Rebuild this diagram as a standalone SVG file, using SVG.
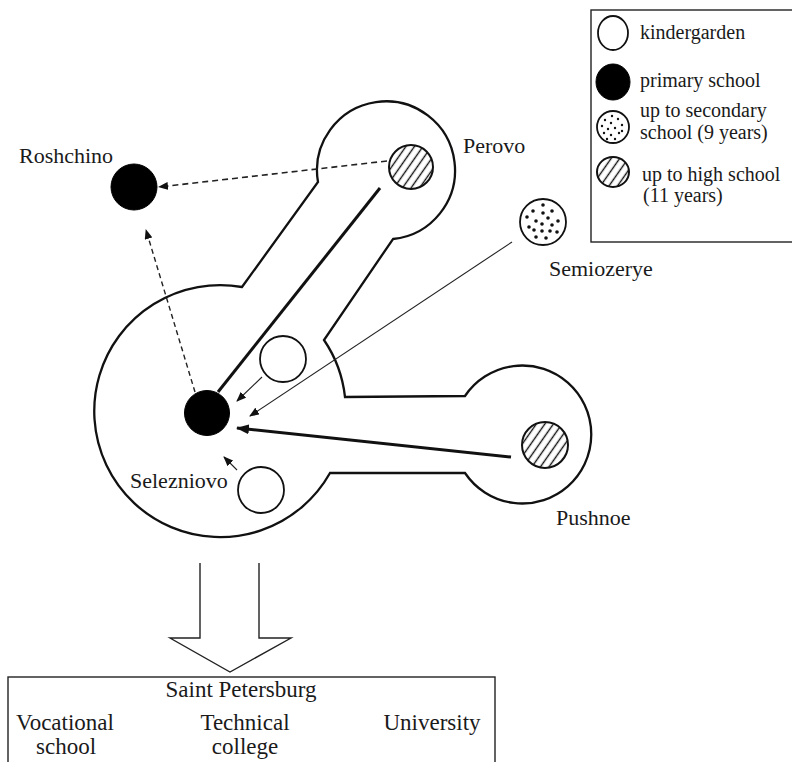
<svg xmlns="http://www.w3.org/2000/svg" width="792" height="762" viewBox="0 0 792 762">
<style>
  .t { font-family: "Liberation Serif", "Times New Roman", serif; fill: #1a1a1a; }
  .lbl { font-size: 22px; }
  .leg { font-size: 20px; }
  .box { font-size: 23px; }
  .outline { fill: none; stroke: #111; stroke-width: 2.3; stroke-linejoin: miter; }
  .kg { fill: #fff; stroke: #111; stroke-width: 1.8; }
  .prim { fill: #000; stroke: #000; stroke-width: 1; }
  .hatch { fill: url(#hatchPat); stroke: #111; stroke-width: 2; }
  .dotted { fill: #fff; stroke: #111; stroke-width: 1.8; }
  .dot { fill: #111; }
  .dash { fill: none; stroke: #222; stroke-width: 1.6; stroke-dasharray: 6 4; }
  .dash2 { fill: none; stroke: #222; stroke-width: 1.4; stroke-dasharray: 5 3.5; }
  .thin { fill: none; stroke: #222; stroke-width: 1.1; }
  .bold { fill: none; stroke: #111; stroke-width: 3; }
  .frame { fill: none; stroke: #222; stroke-width: 1.4; }
</style>
<defs>
  <pattern id="hatchPat" patternUnits="userSpaceOnUse" width="7" height="7" patternTransform="rotate(35)">
    <rect width="7" height="7" fill="#fff"/>
    <line x1="3.5" y1="0" x2="3.5" y2="7" stroke="#111" stroke-width="1.4"/>
  </pattern>
  <marker id="ah" markerUnits="userSpaceOnUse" markerWidth="10" markerHeight="8" refX="9" refY="4" orient="auto">
    <path d="M0,0 L10,4 L0,8 Z" fill="#111"/>
  </marker>
  <marker id="ahBig" markerUnits="userSpaceOnUse" markerWidth="13" markerHeight="10" refX="12" refY="5" orient="auto">
    <path d="M0,0 L13,5 L0,10 Z" fill="#111"/>
  </marker>
</defs>
<rect width="792" height="762" fill="#fff"/>

<g id="settlement-outline">
  <path class="outline" d="M242,287 L318,182 A69,69 0 1 1 393,239 L324,340 A126,126 0 0 1 345,397 L465,396 A69,69 0 1 1 465,473 L330,473 A126,126 0 1 1 242,287 Z"/>
</g>

<g id="connectors">
  <line class="dash" x1="387" y1="161" x2="159" y2="187" marker-end="url(#ah)"/>
  <line class="dash2" x1="195" y1="392" x2="146" y2="230" marker-end="url(#ah)"/>
  <line class="bold" x1="380" y1="188" x2="218" y2="392"/>
  <line class="thin" x1="262" y1="377" x2="237" y2="401" marker-end="url(#ah)"/>
  <line class="thin" x1="512" y1="242" x2="250" y2="416" marker-end="url(#ah)"/>
  <line class="bold" x1="511" y1="457" x2="237" y2="428" stroke-width="2.6" marker-end="url(#ahBig)"/>
  <line class="thin" x1="237" y1="470" x2="224" y2="457" stroke-width="1.3" marker-end="url(#ah)"/>
  <path class="frame" d="M200,563 V638 H170 L230,672 L291,638 H259 V563"/>
</g>

<g id="roshchino">
  <circle class="prim" cx="134" cy="187" r="23"/>
  <text class="t lbl" x="19" y="163">Roshchino</text>
</g>

<g id="perovo">
  <circle class="hatch" cx="411" cy="167" r="22"/>
  <text class="t lbl" x="463" y="153">Perovo</text>
</g>

<g id="semiozerye">
  <circle class="dotted" cx="543" cy="222" r="23"/>
  <g class="dot">
    <circle cx="543" cy="205" r="1.8"/><circle cx="533" cy="211" r="1.8"/><circle cx="543" cy="213" r="1.8"/>
    <circle cx="552" cy="211" r="1.8"/><circle cx="527" cy="217" r="1.8"/><circle cx="548" cy="218" r="1.8"/>
    <circle cx="558" cy="221" r="1.8"/><circle cx="536" cy="221" r="1.8"/><circle cx="542" cy="224" r="1.8"/>
    <circle cx="552" cy="225" r="1.8"/><circle cx="529" cy="227" r="1.8"/><circle cx="534" cy="230" r="1.8"/>
    <circle cx="542" cy="231" r="1.8"/><circle cx="550" cy="231" r="1.8"/><circle cx="557" cy="232" r="1.8"/>
    <circle cx="536" cy="237" r="1.8"/><circle cx="546" cy="238" r="1.8"/>
  </g>
  <text class="t lbl" x="549" y="276">Semiozerye</text>
</g>

<g id="selezniovo">
  <circle class="prim" cx="207" cy="413" r="22.5"/>
  <text class="t lbl" x="130" y="488">Selezniovo</text>
</g>

<g id="kindergarden-1">
  <circle class="kg" cx="283" cy="359" r="23"/>
</g>

<g id="kindergarden-2">
  <circle class="kg" cx="261" cy="490" r="23"/>
</g>

<g id="pushnoe">
  <circle class="hatch" cx="545" cy="445" r="23"/>
  <text class="t lbl" x="556" y="525">Pushnoe</text>
</g>

<g id="legend">
  <rect class="frame" x="591" y="10" width="210" height="232"/>
  <ellipse class="kg" cx="613" cy="33" rx="15" ry="17"/>
  <text class="t leg" x="640" y="39">kindergarden</text>
  <ellipse class="prim" cx="613" cy="82" rx="17" ry="18"/>
  <text class="t leg" x="640" y="87">primary school</text>
  <circle class="dotted" cx="613" cy="127" r="16"/>
  <g class="dot">
    <circle cx="612" cy="116" r="1.2"/><circle cx="605" cy="120" r="1.2"/><circle cx="618" cy="119" r="1.2"/>
    <circle cx="611" cy="123" r="1.2"/><circle cx="602" cy="126" r="1.2"/><circle cx="622" cy="125" r="1.2"/>
    <circle cx="608" cy="129" r="1.2"/><circle cx="615" cy="128" r="1.2"/><circle cx="604" cy="133" r="1.2"/>
    <circle cx="619" cy="133" r="1.2"/><circle cx="611" cy="135" r="1.2"/><circle cx="615" cy="139" r="1.2"/>
    <circle cx="607" cy="139" r="1.2"/><circle cx="622" cy="131" r="1.2"/>
  </g>
  <text class="t leg" x="640" y="117">up to secondary</text>
  <text class="t leg" x="640" y="139">school (9 years)</text>
  <ellipse class="hatch" cx="613" cy="172" rx="16" ry="15"/>
  <text class="t leg" x="642" y="181">up to high school</text>
  <text class="t leg" x="643" y="202">(11 years)</text>
</g>

<g id="saint-petersburg">
  <rect class="frame" x="8" y="677" width="487" height="100"/>
  <text class="t box" x="241" y="697" text-anchor="middle">Saint Petersburg</text>
  <text class="t box" x="65" y="730" text-anchor="middle">Vocational</text>
  <text class="t box" x="66" y="754" text-anchor="middle">school</text>
  <text class="t box" x="245" y="730" text-anchor="middle">Technical</text>
  <text class="t box" x="245" y="754" text-anchor="middle">college</text>
  <text class="t box" x="432" y="730" text-anchor="middle">University</text>
</g>
</svg>
